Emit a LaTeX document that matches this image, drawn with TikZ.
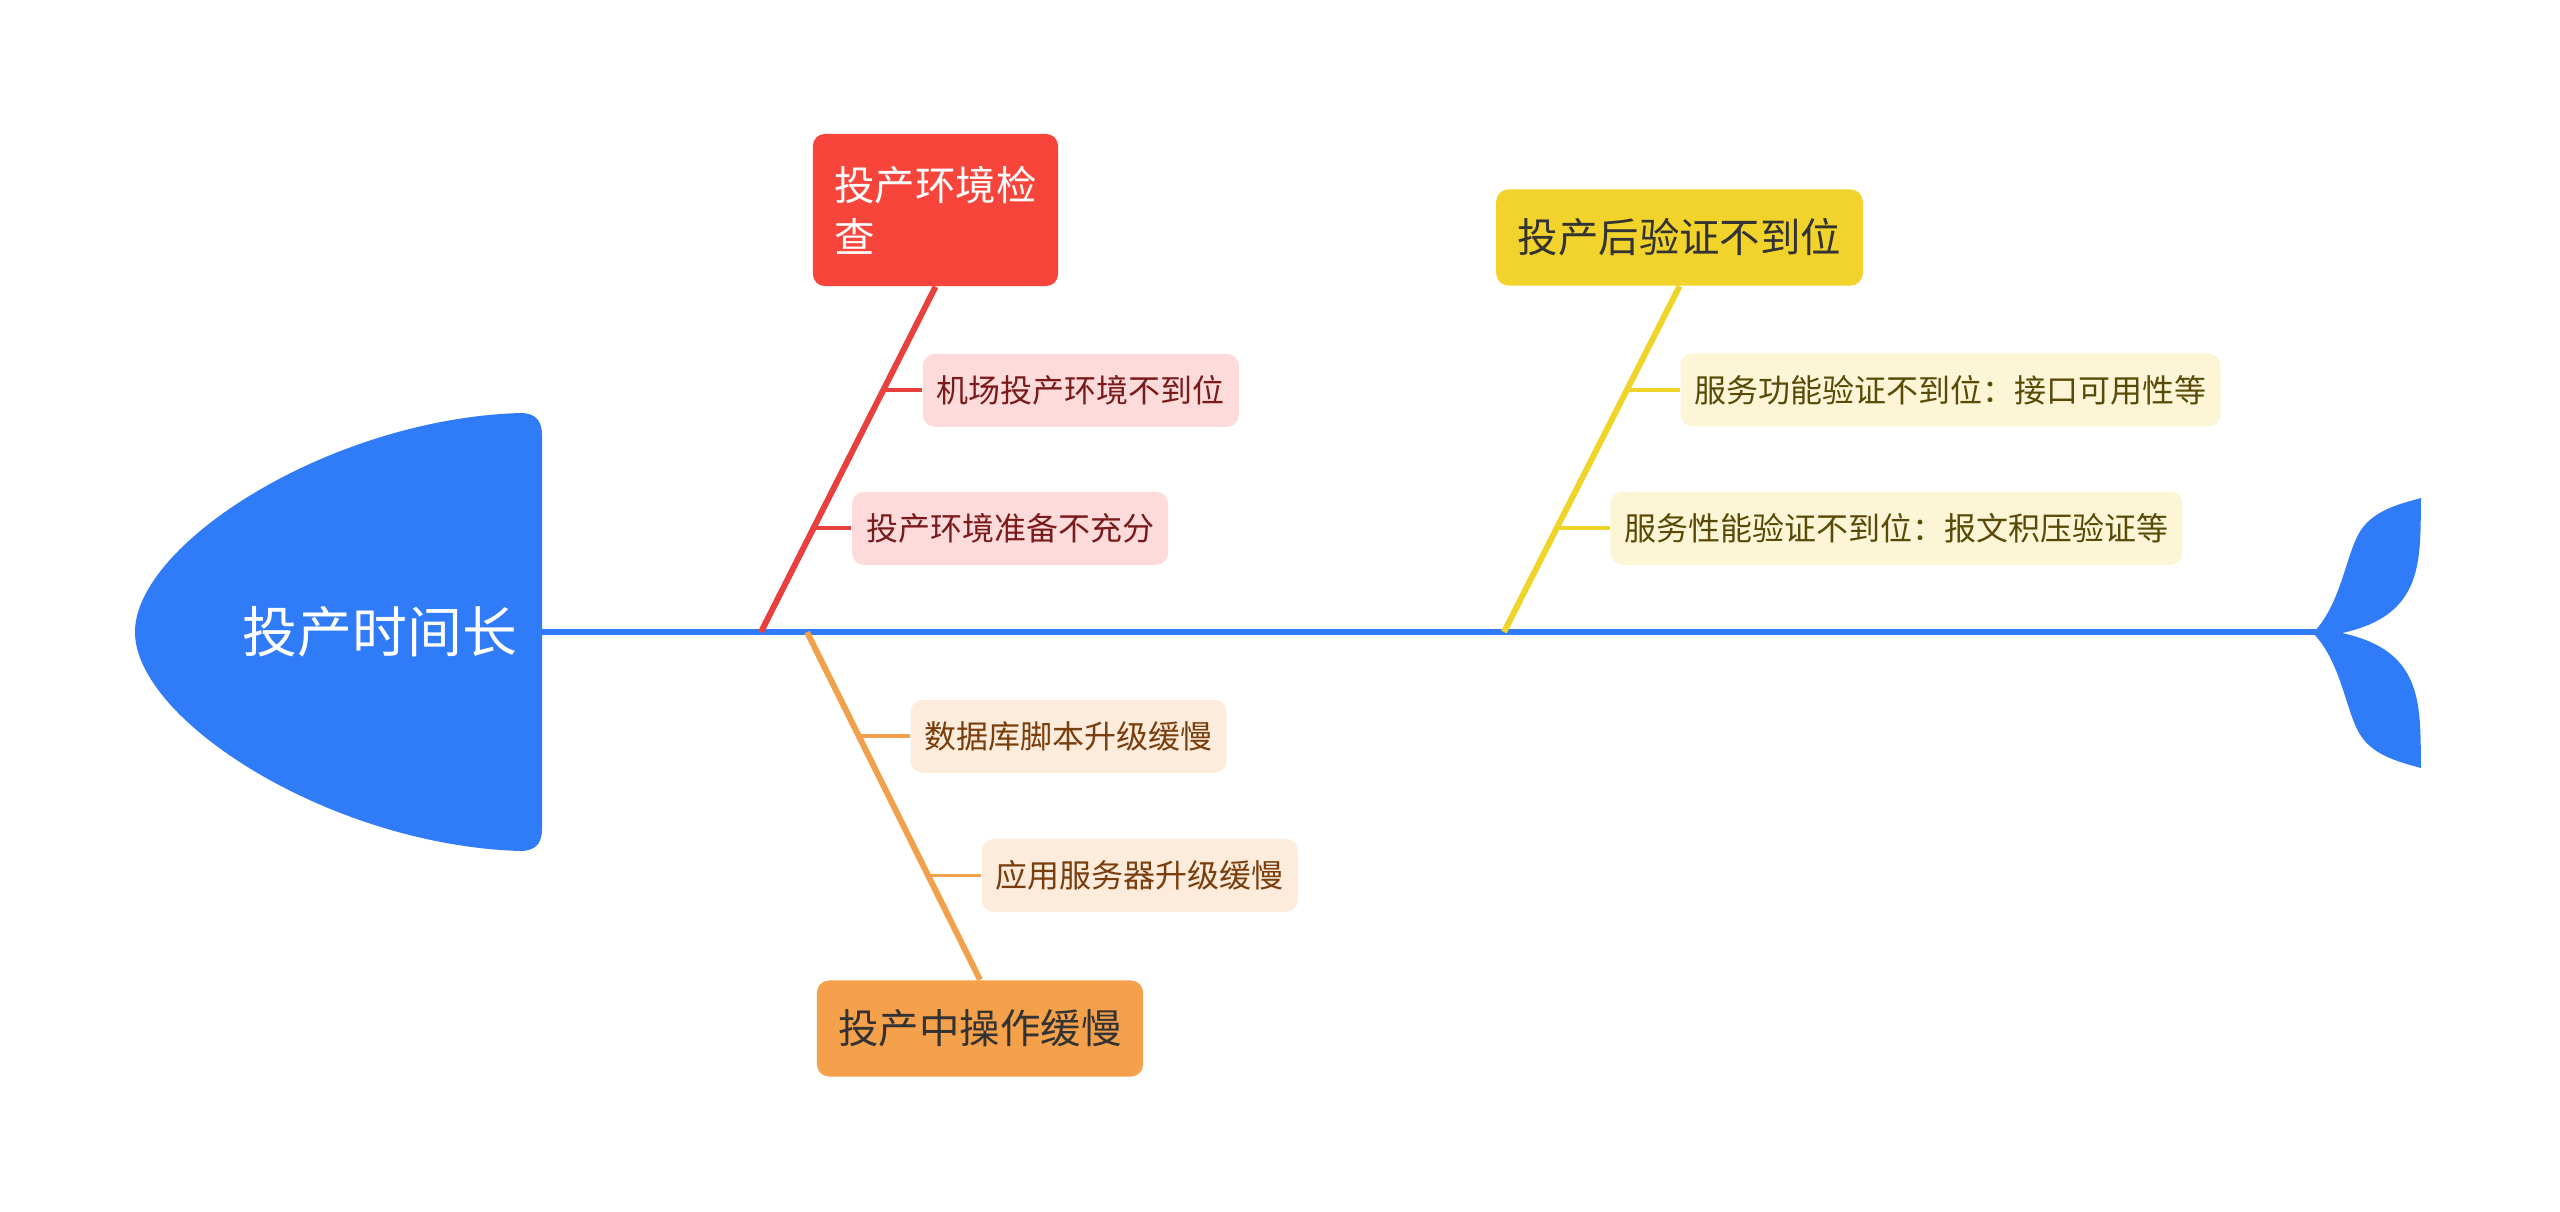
\documentclass[tikz,border=0pt]{standalone}
\usepackage{fontspec}
\setmainfont{Noto Sans CJK SC}
\usetikzlibrary{positioning,calc}

\definecolor{fishblue}{HTML}{2F7BF8}
\definecolor{redmain}{HTML}{F8453C}
\definecolor{redbone}{HTML}{E8403F}
\definecolor{redlight}{HTML}{FDDBDB}
\definecolor{redtext}{HTML}{7A1A1A}
\definecolor{orangemain}{HTML}{F5A04A}
\definecolor{orangebone}{HTML}{F1A04C}
\definecolor{orangelight}{HTML}{FDEBDB}
\definecolor{orangetext}{HTML}{7A3D0C}
\definecolor{yellowmain}{HTML}{F2D32B}
\definecolor{yellowbone}{HTML}{EFD42A}
\definecolor{yellowlight}{HTML}{FDF6D6}
\definecolor{yellowtext}{HTML}{5A4A08}
\definecolor{darktext}{HTML}{333333}

\begin{document}
\begin{tikzpicture}[x=0.01cm, y=-0.01cm,
    cause/.style={rounded corners=0.12cm, inner xsep=0.215cm, minimum height=0.96cm,
      font=\fontsize{11.5}{14.8}\selectfont},
    detail/.style={rounded corners=0.12cm, inner xsep=0.14cm, minimum height=0.73cm,
      font=\fontsize{9.1}{11}\selectfont},
    bone/.style={line width=1.7pt},
    twig/.style={line width=1.1pt}]
  \useasboundingbox (0,0) rectangle (2560,1212);

  % Head of the fish
  \fill[fishblue] (135,632) .. controls (135,544) and (330,419) .. (520,413)
    .. controls (535,413) and (542,420) .. (542,435) -- (542,829)
    .. controls (542,844) and (535,851) .. (520,851)
    .. controls (330,845) and (135,720) .. (135,632) -- cycle;
  \node[text=white, font=\fontsize{15.6}{18}\selectfont] (problem) at (380,632) {投产时间长};

  % Spine
  \coordinate (neck) at (542,632);
  \coordinate (tailroot) at (2316,632);
  \draw[fishblue, line width=1.7pt] (neck) -- (tailroot);

  % Tail fin
  \fill[fishblue] (2313,633) .. controls (2340,605) and (2345,560) .. (2358,535)
    .. controls (2370,512) and (2395,505) .. (2421,498)
    .. controls (2420,560) and (2425,615) .. (2342,633)
    .. controls (2425,651) and (2420,706) .. (2421,768)
    .. controls (2395,761) and (2370,754) .. (2358,731)
    .. controls (2345,706) and (2340,661) .. (2313,633) -- cycle;

  % Main causes
  \node[cause, fill=redmain, text=white, align=left, minimum height=1.52cm] (envcheck) at (935.5,210) {投产环境检\\查};
  \node[cause, fill=yellowmain, text=darktext] (verify) at (1679.5,237.5) {投产后验证不到位};
  \node[cause, fill=orangemain, text=darktext] (slowop) at (980,1028.5) {投产中操作缓慢};

  % Bones from the spine
  \coordinate (r0) at (761,632);
  \coordinate (o0) at (807,632);
  \coordinate (y0) at (1504,632);
  \draw[bone, redbone] (r0) -- (envcheck.south);
  \draw[bone, orangebone] (o0) -- (slowop.north);
  \draw[bone, yellowbone] (y0) -- (verify.south);

  % Points on the bones
  \coordinate (r1) at ($(r0)!0.7!(envcheck.south)$);
  \coordinate (r2) at ($(r0)!0.3!(envcheck.south)$);
  \coordinate (o1) at ($(o0)!0.3!(slowop.north)$);
  \coordinate (o2) at ($(o0)!0.7!(slowop.north)$);
  \coordinate (y1) at ($(y0)!0.7!(verify.south)$);
  \coordinate (y2) at ($(y0)!0.3!(verify.south)$);

  % Sub causes
  \node[detail, fill=redlight, text=redtext, right=0.39cm of r1] (envA) {机场投产环境不到位};
  \node[detail, fill=redlight, text=redtext, right=0.38cm of r2] (envB) {投产环境准备不充分};
  \node[detail, fill=orangelight, text=orangetext, right=0.51cm of o1] (opA) {数据库脚本升级缓慢};
  \node[detail, fill=orangelight, text=orangetext, right=0.53cm of o2] (opB) {应用服务器升级缓慢};
  \node[detail, fill=yellowlight, text=yellowtext, right=0.53cm of y1] (verA) {服务功能验证不到位：接口可用性等};
  \node[detail, fill=yellowlight, text=yellowtext, right=0.53cm of y2] (verB) {服务性能验证不到位：报文积压验证等};

  \draw[twig, redbone] (r1) -- (envA.west);
  \draw[twig, redbone] (r2) -- (envB.west);
  \draw[twig, orangebone] (o1) -- (opA.west);
  \draw[twig, orangebone] (o2) -- (opB.west);
  \draw[twig, yellowbone] (y1) -- (verA.west);
  \draw[twig, yellowbone] (y2) -- (verB.west);
\end{tikzpicture}
\end{document}
